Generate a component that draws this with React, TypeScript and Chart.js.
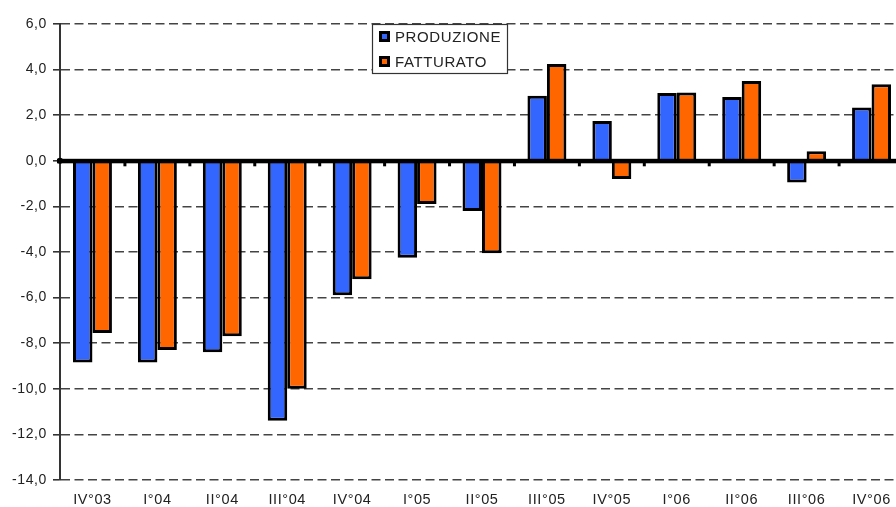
import React, { useEffect, useRef } from "react";
import { Chart, registerables } from "chart.js";

Chart.register(...registerables);

const categories = ["IV°03", "I°04", "II°04", "III°04", "IV°04", "I°05", "II°05", "III°05", "IV°05", "I°06", "II°06", "III°06", "IV°06"];
const produzione = [-8.85, -8.85, -8.4, -11.4, -5.9, -4.25, -2.2, 2.85, 1.75, 2.97, 2.8, -0.95, 2.34];
const fatturato = [-7.55, -8.3, -7.7, -10.0, -5.2, -1.9, -4.05, 4.25, -0.8, 3.0, 3.5, 0.42, 3.36];
const seriesNames = ["PRODUZIONE", "FATTURATO"];
const seriesColors = ["#3366FF", "#FF6600"];
const yMin = -14;
const yMax = 6;
const yStep = 2;

const FONT = "'Liberation Sans', Arial, sans-serif";

const spacingPlugin = {
  id: "spacing",
  beforeDraw(chart: any) {
    (chart.ctx as any).letterSpacing = "0.6px";
  },
};

const zeroLinePlugin = {
  id: "zeroLine",
  afterDatasetsDraw(chart: any) {
    const { ctx, chartArea, scales } = chart;
    const y0 = scales.y.getPixelForValue(0);
    const xs = scales.x;
    ctx.save();
    ctx.fillStyle = "#000";
    ctx.fillRect(chartArea.left - 3, y0 - 2, chartArea.right - chartArea.left + 3, 4.5);
    ctx.beginPath();
    ctx.arc(chartArea.left, y0, 3, 0, Math.PI * 2);
    ctx.fill();
    const n = categories.length;
    const band = (chartArea.right - chartArea.left) / n;
    for (let i = 1; i < n; i++) {
      const bx = xs.getPixelForValue(i) - band / 2;
      ctx.fillRect(bx - 1.5, y0, 3, 5.5);
    }
    ctx.restore();
  },
};

const legendPlugin = {
  id: "boxLegend",
  afterDraw(chart: any) {
    const { ctx } = chart;
    const x = 372;
    const y = 24;
    const w = 135;
    const h = 49;
    ctx.save();
    ctx.fillStyle = "#fff";
    ctx.fillRect(x, y, w, h);
    ctx.strokeStyle = "#333";
    ctx.lineWidth = 1.2;
    ctx.strokeRect(x + 0.5, y + 0.5, w, h);
    ctx.font = `15px ${FONT}`;
    ctx.textBaseline = "middle";
    chart.data.datasets.forEach((ds: any, i: number) => {
      const cy = y + 12.5 + i * 25;
      ctx.fillStyle = "#000";
      ctx.fillRect(x + 7, cy - 5.5, 11, 11);
      ctx.fillStyle = ds.backgroundColor;
      ctx.fillRect(x + 10, cy - 2.5, 5, 5);
      ctx.fillStyle = "#222";
      ctx.fillText(ds.label, x + 23, cy + 1);
    });
    ctx.restore();
  },
};

export default function App() {
  const ref = useRef<HTMLCanvasElement | null>(null);
  useEffect(() => {
    if (!ref.current) return;
    const chart = new Chart(ref.current, {
      type: "bar",
      data: {
        labels: categories,
        datasets: [
          { label: seriesNames[0], data: produzione, backgroundColor: seriesColors[0], borderColor: "#000", borderWidth: 3 },
          { label: seriesNames[1], data: fatturato, backgroundColor: seriesColors[1], borderColor: "#000", borderWidth: 3 },
        ],
      },
      options: {
        animation: false,
        responsive: false,
        maintainAspectRatio: false,
        layout: { padding: { top: 24, bottom: 0, left: 0, right: 0 } },
        datasets: { bar: { categoryPercentage: 0.6, barPercentage: 1.0 } },
        plugins: { legend: { display: false }, tooltip: { enabled: false } },
        scales: {
          x: {
            grid: { display: false, drawTicks: false },
            border: { display: false },
            ticks: { color: "#222", font: { family: FONT, size: 14.5 }, padding: 11, maxRotation: 0, autoSkip: false },
            afterFit: (s: any) => { s.height = 27; },
          },
          y: {
            min: yMin,
            max: yMax,
            ticks: {
              stepSize: yStep,
              color: "#222",
              padding: 6,
              font: { family: FONT, size: 14 },
              callback: (v: any) => Number(v).toFixed(1).replace(".", ","),
            },
            grid: {
              color: (c: any) => (c.tick && c.tick.value === 0 ? "rgba(0,0,0,0)" : "#444"),
              lineWidth: 1.6,
              tickColor: "#333",
              tickLength: 7,
            },
            border: { display: true, color: "#333", width: 2, dash: [9, 4.5] },
            afterFit: (s: any) => { s.width = 60; },
          },
        },
      },
      plugins: [spacingPlugin, zeroLinePlugin, legendPlugin],
    });
    return () => chart.destroy();
  }, []);
  return (
    <div style={{ position: "fixed", left: 0, top: 0, width: 896, height: 507, overflow: "hidden", background: "#fff" }}>
      <canvas ref={ref} width={904} height={507} style={{ display: "block" }} />
    </div>
  );
}
